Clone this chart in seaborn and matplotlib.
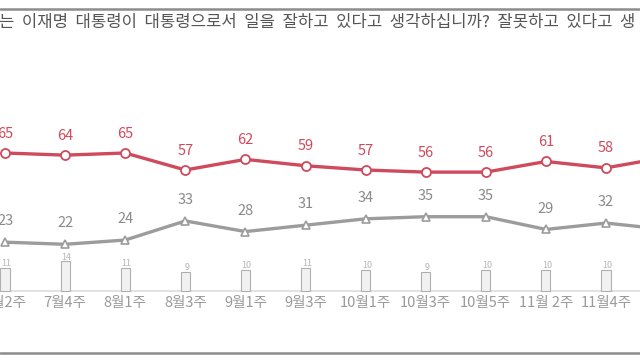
import numpy as np
import pandas as pd
import matplotlib
matplotlib.use("Agg")
import matplotlib.pyplot as plt
from matplotlib.lines import Line2D
import seaborn as sns

weeks = ["7월2주", "7월4주", "8월1주", "8월3주", "9월1주", "9월3주",
         "10월1주", "10월3주", "10월5주", "11월 2주", "11월4주", "12월1주"]
positive = [65, 64, 65, 57, 62, 59, 57, 56, 56, 61, 58, 63]
negative = [23, 22, 24, 33, 28, 31, 34, 35, 35, 29, 32, 29]
unsure = [11, 14, 11, 9, 10, 11, 10, 9, 10, 10, 10, 8]
question = "는 이재명 대통령이 대통령으로서 일을 잘하고 있다고 생각하십니까? 잘못하고 있다고 생"

sns.set_theme(style="white")
plt.rcParams['font.family'] = ['Noto Sans CJK KR', 'DejaVu Sans']

RED = "#cf4a5c"
GRAY = "#9c9c9c"

pos = np.arange(len(weeks))
df = pd.DataFrame({"pos": pos, "week": weeks, "pos_v": positive,
                   "neg_v": negative, "uns": unsure})

fig = plt.figure(figsize=(6.4, 3.6), dpi=100)
ax = fig.add_axes([0, 0, 1, 1])

sns.barplot(data=df, x="pos", y="uns", native_scale=True, width=0.15,
            color="#f1f1f1", edgecolor="#b0b0b0", linewidth=0.8, ax=ax, zorder=2)

sns.lineplot(data=df, x="pos", y="neg_v", color=GRAY, linewidth=2.4,
             marker="^", markersize=6, markerfacecolor="white",
             markeredgecolor=GRAY, markeredgewidth=1.2, ax=ax, zorder=3)
sns.lineplot(data=df, x="pos", y="pos_v", color=RED, linewidth=2.4,
             marker="o", markersize=6.5, markerfacecolor="white",
             markeredgecolor=RED, markeredgewidth=1.3, ax=ax, zorder=4)

for x, v in zip(pos, positive):
    ax.annotate(str(v), (x, v), xytext=(0, 14), textcoords="offset points",
                ha="center", va="center", color=RED, fontsize=10.5)
for x, v in zip(pos, negative):
    ax.annotate(str(v), (x, v), xytext=(0, 15), textcoords="offset points",
                ha="center", va="center", color="#8a8a8a", fontsize=10.5)
for x, v in zip(pos, unsure):
    ax.annotate(str(v), (x, v), xytext=(1, 3), textcoords="offset points",
                ha="center", va="center", color="#b5b5b5", fontsize=6.5,
                style="italic")

ax.axhline(0, color="#dddddd", linewidth=1.2, zorder=1)

x0 = -5 / 60.1
ax.set_xlim(x0, x0 + 640 / 60.1)
ax.set_ylim(-69 / 2.123, 291 / 2.123)
ax.set_xticks([])
ax.set_yticks([])
ax.set_xlabel("")
ax.set_ylabel("")
for s in ax.spines.values():
    s.set_visible(False)

for x, lab in zip(pos, weeks):
    ax.annotate(lab, (x, 0), xytext=(0, -9), textcoords="offset points",
                ha="center", va="center", color="#9a9a9a", fontsize=10.5)

fig.text(-0.002, 1 - 22 / 360, question.replace(" ", "  "), ha="left",
         va="center", color="#555555", fontsize=12)

for yy in (9, 353):
    fig.add_artist(Line2D([0, 1], [1 - yy / 360] * 2, color="#8c8c8c",
                          linewidth=1.8, transform=fig.transFigure))

fig.savefig("out.png", dpi=100, facecolor="white")
